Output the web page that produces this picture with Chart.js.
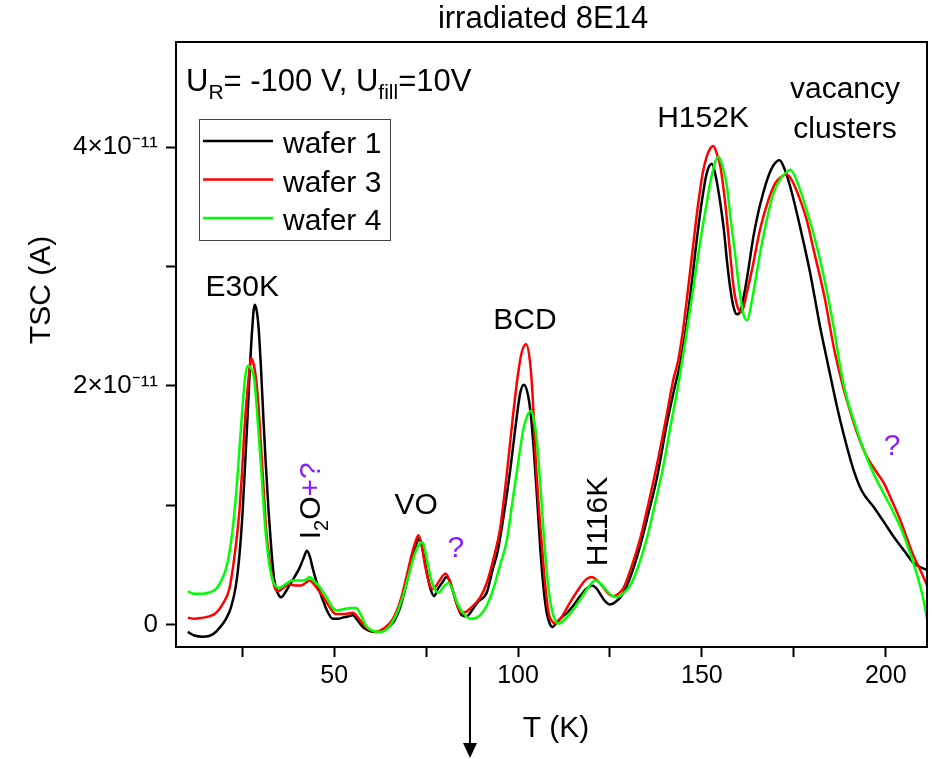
<!DOCTYPE html>
<html>
<head>
<meta charset="utf-8">
<script src="https://cdn.jsdelivr.net/npm/chart.js@4.4.1/dist/chart.umd.min.js"></script>
<style>
  html, body { margin: 0; padding: 0; background: #fff; }
  canvas { display: block; }
</style>
</head>
<body>
<canvas id="chart" width="940" height="759"></canvas>
<script>
// TSC current in units of 1e-11 A, temperature in K
const tempW1 = [10.2, 12, 14.3, 17, 19, 20.6, 22, 23.3, 24.3, 25.1, 25.8, 26.5, 27.1, 27.7, 28.4, 29.0, 29.5, 30.1, 30.7, 31.4, 32.2, 33.0, 33.7, 34.6, 35.6, 36.7, 37.8, 39.2, 40.5, 41.7, 42.6, 43.4, 44.2, 45.5, 46.9, 48.2, 49.6, 51, 52.3, 53.8, 55.1, 56.3, 57.8, 59.5, 61.5, 63.5, 66.1, 68, 69.7, 71.2, 72.5, 73.2, 74.0, 75.2, 76.2, 77.2, 78.2, 79.3, 80.6, 81.5, 82.4, 83.5, 84.7, 86, 87, 89, 91.5, 93, 94.5, 96.9, 98.1, 99.2, 100.6, 101.6, 102.8, 103.5, 104.2, 105.1, 106.0, 106.9, 107.8, 108.6, 109.4, 110.5, 111.8, 113.3, 115, 116.9, 118.5, 120.1, 121.2, 122.3, 123.6, 125.0, 126.5, 128.7, 131, 133.2, 135.5, 137.7, 140.5, 142.3, 144.1, 145.5, 147, 148.5, 150, 151.3, 152.7, 153.8, 155, 156, 156.8, 157.7, 158.6, 159.5, 160.4, 161.2, 162.5, 164, 165.3, 166.7, 168, 169.5, 171.1, 172.3, 174, 176.7, 179.4, 182.1, 184, 186.7, 188.5, 191.2, 193.5, 196.6, 199.5, 202.1, 205, 207.5, 209.5, 211.2];
const tscW1 = [-0.06, -0.09, -0.10, -0.08, -0.02, 0.05, 0.15, 0.33, 0.6, 0.94, 1.35, 1.77, 2.15, 2.47, 2.68, 2.62, 2.47, 2.15, 1.77, 1.35, 0.94, 0.6, 0.38, 0.27, 0.23, 0.27, 0.33, 0.40, 0.47, 0.56, 0.62, 0.57, 0.47, 0.33, 0.21, 0.11, 0.05, 0.05, 0.06, 0.07, 0.08, 0.04, -0.02, -0.05, -0.06, -0.04, 0.02, 0.15, 0.35, 0.54, 0.69, 0.72, 0.64, 0.44, 0.30, 0.24, 0.30, 0.35, 0.40, 0.36, 0.27, 0.16, 0.08, 0.07, 0.10, 0.19, 0.27, 0.45, 0.62, 1.08, 1.35, 1.63, 1.94, 2.01, 1.91, 1.75, 1.50, 1.1, 0.66, 0.32, 0.10, 0.01, -0.02, 0.02, 0.06, 0.10, 0.16, 0.24, 0.30, 0.33, 0.31, 0.26, 0.20, 0.17, 0.19, 0.27, 0.44, 0.66, 0.94, 1.22, 1.69, 1.95, 2.19, 2.45, 2.80, 3.20, 3.55, 3.78, 3.86, 3.75, 3.53, 3.30, 3.05, 2.82, 2.66, 2.60, 2.62, 2.72, 2.95, 3.25, 3.45, 3.62, 3.75, 3.85, 3.89, 3.83, 3.67, 3.33, 2.95, 2.50, 2.22, 1.83, 1.6, 1.30, 1.12, 0.99, 0.86, 0.74, 0.62, 0.52, 0.48, 0.46];

const tempW3 = [10.2, 12, 14.3, 16, 17.9, 19.8, 21.5, 22.8, 24.2, 25.0, 25.6, 26.6, 27.5, 28.2, 28.8, 29.5, 30.1, 30.8, 31.5, 32.4, 33.3, 34.0, 34.7, 36.2, 37.8, 39.4, 41.0, 42.2, 43.3, 44.5, 45.7, 46.9, 48.7, 50.5, 52.5, 55.1, 56.5, 57.8, 59.5, 61.3, 63.5, 65.8, 68, 69.5, 71.2, 72.4, 72.9, 73.7, 74.7, 75.8, 76.8, 77.8, 79.3, 80.3, 81.3, 82.3, 83.4, 84.5, 86, 87.5, 89.7, 91.5, 93.3, 95.1, 96.9, 98.7, 100, 101.0, 102.2, 103.3, 104.0, 104.6, 105.5, 106.5, 107.4, 108.3, 109.2, 110.1, 111.5, 114.2, 116.5, 118.5, 120.1, 121.5, 122.8, 124.3, 126, 127.3, 128.7, 131, 133.2, 135.5, 137.7, 140.5, 142.2, 143.6, 145, 146.3, 147.7, 149.0, 150.2, 151.3, 152.3, 153.1, 154.0, 155.0, 156.0, 156.8, 157.7, 158.6, 159.7, 160.8, 162.2, 163.6, 165.8, 168, 170, 171.5, 173.1, 174.5, 176.7, 178.5, 180.3, 183.3, 186, 188.5, 190.3, 192.5, 194.8, 197, 199.4, 201.5, 203.9, 205.8, 207.5, 209.5, 211.2];
const tscW3 = [0.06, 0.05, 0.06, 0.07, 0.10, 0.18, 0.30, 0.55, 0.94, 1.3, 1.63, 2.02, 2.23, 2.17, 2.05, 1.80, 1.50, 1.15, 0.80, 0.55, 0.38, 0.30, 0.28, 0.31, 0.34, 0.33, 0.33, 0.35, 0.37, 0.34, 0.29, 0.24, 0.15, 0.09, 0.09, 0.10, 0.06, 0.01, -0.04, -0.06, -0.03, 0.04, 0.20, 0.38, 0.60, 0.72, 0.75, 0.68, 0.50, 0.35, 0.30, 0.33, 0.40, 0.43, 0.38, 0.28, 0.17, 0.10, 0.11, 0.15, 0.23, 0.35, 0.55, 0.80, 1.25, 1.77, 2.10, 2.28, 2.35, 2.19, 1.90, 1.50, 1.05, 0.66, 0.33, 0.10, 0.03, 0.01, 0.05, 0.19, 0.30, 0.38, 0.40, 0.37, 0.33, 0.27, 0.24, 0.26, 0.31, 0.50, 0.72, 1.02, 1.33, 1.77, 2.05, 2.22, 2.50, 2.83, 3.20, 3.53, 3.78, 3.92, 3.99, 4.01, 3.95, 3.84, 3.62, 3.39, 3.10, 2.83, 2.66, 2.62, 2.78, 2.97, 3.31, 3.55, 3.70, 3.75, 3.77, 3.72, 3.56, 3.39, 3.15, 2.75, 2.30, 1.98, 1.79, 1.58, 1.41, 1.30, 1.19, 1.05, 0.88, 0.72, 0.58, 0.45, 0.33];

const tempW4 = [10.2, 12, 14.3, 16, 17.9, 19.3, 20.6, 22, 23.3, 24.2, 25.1, 25.8, 26.5, 27.3, 28.3, 29.0, 29.7, 30.5, 31.3, 32.3, 33.3, 34.2, 35.1, 36.8, 38.7, 40.2, 41.4, 42.4, 43.3, 44.5, 45.7, 46.9, 48.7, 50.5, 52.5, 54.5, 56, 57.3, 58.7, 60.5, 62.5, 64.5, 66.5, 68.5, 70.3, 72, 73.3, 74.1, 75, 76.2, 77.3, 78.4, 79.8, 81.1, 82.3, 83.5, 85, 87, 89.7, 91.5, 93.3, 95.1, 96.9, 98.7, 100.0, 101.4, 102.5, 103.5, 104.3, 105.1, 106.0, 106.9, 107.8, 108.7, 109.8, 111.0, 112.5, 115.1, 117.5, 119.5, 121.0, 122.3, 123.7, 125.3, 126.9, 128.5, 130.5, 132.8, 135, 137.3, 139.5, 141.5, 143.5, 145.5, 147.7, 149.5, 151.3, 152.8, 154.5, 155.5, 156.8, 157.8, 159.0, 160.2, 161.3, 162.3, 163.5, 165.8, 167.7, 169.4, 171.5, 173, 174.0, 175.5, 178.5, 182.1, 185.8, 187.6, 189.4, 191.2, 193.8, 196.6, 199.4, 202.1, 204.5, 206.6, 208.0, 209.3, 210.3, 211.2];
const tscW4 = [0.28, 0.26, 0.26, 0.27, 0.30, 0.37, 0.47, 0.70, 1.08, 1.45, 1.83, 2.07, 2.17, 2.15, 2.05, 1.80, 1.50, 1.15, 0.80, 0.52, 0.37, 0.32, 0.31, 0.34, 0.37, 0.37, 0.37, 0.38, 0.40, 0.37, 0.33, 0.28, 0.19, 0.12, 0.13, 0.14, 0.14, 0.08, -0.01, -0.05, -0.06, -0.03, 0.06, 0.22, 0.42, 0.60, 0.68, 0.69, 0.58, 0.40, 0.30, 0.27, 0.32, 0.35, 0.28, 0.18, 0.10, 0.05, 0.08, 0.16, 0.30, 0.50, 0.70, 1.08, 1.35, 1.63, 1.75, 1.79, 1.72, 1.55, 1.20, 0.80, 0.45, 0.21, 0.06, 0.01, 0.04, 0.13, 0.24, 0.33, 0.37, 0.35, 0.30, 0.25, 0.23, 0.26, 0.33, 0.50, 0.72, 1.02, 1.33, 1.67, 2.00, 2.38, 2.83, 3.20, 3.53, 3.78, 3.92, 3.85, 3.67, 3.40, 3.11, 2.80, 2.60, 2.55, 2.70, 3.11, 3.40, 3.61, 3.74, 3.79, 3.81, 3.74, 3.47, 3.06, 2.50, 2.16, 1.90, 1.72, 1.48, 1.27, 1.10, 0.94, 0.78, 0.60, 0.47, 0.33, 0.20, 0.05];

const seriesNames = ['wafer 1', 'wafer 3', 'wafer 4'];
const seriesColors = ['#000000', '#ff0000', '#00ff00'];

// peak labels, anchored in data units (T in K, TSC in 1e-11 A)
const peakLabels = [
  { text: 'E30K', t: 25.0, i: 2.82 },
  { text: 'VO', t: 72.3, i: 1.0 },
  { text: 'BCD', t: 101.9, i: 2.55 },
  { text: 'H152K', t: 150.3, i: 4.24 },
  { text: 'vacancy', t: 188.9, i: 4.41, base: true },
  { text: 'clusters', t: 188.9, i: 4.08, base: true }
];
const questionMarks = [
  { t: 83.1, i: 0.64 },
  { t: 201.7, i: 1.49 }
];

const FONT = "'Liberation Sans', Arial, sans-serif";
const PURPLE = '#8a1cff';

function toPoints(ts, vs) {
  return ts.map((t, k) => ({ x: t, y: vs[k] }));
}

const overlay = {
  id: 'overlay',
  afterDraw(chart) {
    const { ctx, chartArea: a, scales: { x, y } } = chart;
    ctx.save();

    // frame round the plot
    ctx.strokeStyle = '#000';
    ctx.lineWidth = 2;
    ctx.strokeRect(a.left, a.top, a.right - a.left, a.bottom - a.top);

    ctx.fillStyle = '#000';
    ctx.textBaseline = 'middle';
    ctx.textAlign = 'center';
    ctx.font = '31px ' + FONT;
    ctx.fillText('irradiated 8E14', 543, 19);

    // axis titles
    ctx.font = '30px ' + FONT;
    ctx.fillText('T (K)', 556, 729);
    ctx.save();
    ctx.translate(42, 290);
    ctx.rotate(-Math.PI / 2);
    ctx.fillText('TSC (A)', 0, 0);
    ctx.restore();

    // arrow under the axis
    ctx.lineWidth = 2;
    ctx.beginPath();
    ctx.moveTo(470, 667);
    ctx.lineTo(470, 746);
    ctx.stroke();
    ctx.beginPath();
    ctx.moveTo(463, 743);
    ctx.lineTo(477, 743);
    ctx.lineTo(470, 758);
    ctx.closePath();
    ctx.fill();

    // U_R, U_fill line
    ctx.textAlign = 'left';
    ctx.textBaseline = 'alphabetic';
    let px = 186;
    const base = 91;
    const parts = [['U', 0], ['R', 1], ['= -100 V, U', 0], ['fill', 1], ['=10V', 0]];
    parts.forEach(([s, sub]) => {
      ctx.font = (sub ? '21px ' : '31px ') + FONT;
      ctx.fillText(s, px, base + (sub ? 8 : 0));
      px += ctx.measureText(s).width;
    });

    // peak labels
    ctx.font = '30px ' + FONT;
    ctx.textAlign = 'center';
    peakLabels.forEach(p => {
      ctx.textBaseline = p.base ? 'alphabetic' : 'middle';
      ctx.fillText(p.text, x.getPixelForValue(p.t), y.getPixelForValue(p.i));
    });
    ctx.fillStyle = PURPLE;
    ctx.textBaseline = 'middle';
    questionMarks.forEach(q => {
      ctx.fillText('?', x.getPixelForValue(q.t), y.getPixelForValue(q.i));
    });

    // rotated labels: I2O+? and H116K
    ctx.save();
    ctx.translate(x.getPixelForValue(46.2), y.getPixelForValue(0.716));
    ctx.rotate(-Math.PI / 2);
    ctx.textAlign = 'left';
    ctx.textBaseline = 'alphabetic';
    let rx = 0;
    [['I', 0, '#000'], ['2', 1, '#000'], ['O', 0, '#000'], ['+?', 0, PURPLE]].forEach(([s, sub, c]) => {
      ctx.font = (sub ? '20px ' : '30px ') + FONT;
      ctx.fillStyle = c;
      ctx.fillText(s, rx, sub ? 8 : 0);
      rx += ctx.measureText(s).width;
    });
    ctx.restore();

    ctx.save();
    ctx.translate(x.getPixelForValue(124.2), y.getPixelForValue(0.49));
    ctx.rotate(-Math.PI / 2);
    ctx.textAlign = 'left';
    ctx.textBaseline = 'alphabetic';
    ctx.fillStyle = '#000';
    ctx.font = '30px ' + FONT;
    ctx.fillText('H116K', 0, 0);
    ctx.restore();

    // legend box
    ctx.strokeStyle = '#444';
    ctx.lineWidth = 1;
    ctx.strokeRect(199.5, 119.5, 191, 121);
    ctx.font = '30px ' + FONT;
    ctx.textAlign = 'left';
    ctx.textBaseline = 'alphabetic';
    chart.data.datasets.forEach((ds, k) => {
      const ly = 141 + k * 38.5;
      ctx.strokeStyle = ds.borderColor;
      ctx.lineWidth = 2.5;
      ctx.beginPath();
      ctx.moveTo(203, ly);
      ctx.lineTo(273, ly);
      ctx.stroke();
      ctx.fillStyle = '#000';
      ctx.fillText(ds.label, 283, ly + 12);
    });

    ctx.restore();
  }
};

const datasets = [
  toPoints(tempW1, tscW1),
  toPoints(tempW3, tscW3),
  toPoints(tempW4, tscW4)
].map((pts, k) => ({
  label: seriesNames[k],
  data: pts,
  borderColor: seriesColors[k],
  borderWidth: 2.5,
  pointRadius: 0,
  fill: false,
  cubicInterpolationMode: 'monotone',
  order: 3 - k
}));

new Chart(document.getElementById('chart'), {
  type: 'line',
  data: { datasets: datasets },
  options: {
    responsive: false,
    animation: false,
    events: [],
    layout: { padding: { top: 42, right: 13, left: 0, bottom: 0 } },
    plugins: {
      legend: { display: false },
      tooltip: { enabled: false },
      title: { display: false }
    },
    scales: {
      x: {
        type: 'linear',
        min: 7,
        max: 211.2,
        afterFit: s => { s.height = 112; },
        border: { display: true, color: '#000', width: 2 },
        grid: { drawOnChartArea: false, drawTicks: true, tickLength: 10, tickColor: '#000', tickWidth: 2 },
        ticks: {
          stepSize: 25,
          includeBounds: false,
          autoSkip: false,
          maxRotation: 0,
          padding: 4,
          color: '#000',
          font: { family: FONT, size: 25 },
          callback: v => (v % 50 === 0 ? String(v) : '')
        }
      },
      y: {
        type: 'linear',
        min: -0.186,
        max: 4.88,
        afterFit: s => { s.width = 176; },
        border: { display: true, color: '#000', width: 2 },
        grid: { drawOnChartArea: false, drawTicks: true, tickLength: 10, tickColor: '#000', tickWidth: 2 },
        ticks: {
          stepSize: 1,
          includeBounds: false,
          autoSkip: false,
          padding: 8,
          color: '#000',
          font: { family: FONT, size: 26 },
          callback: v => (v === 0 ? '0' : (v % 2 === 0 ? v + '×10⁻¹¹' : ''))
        }
      }
    }
  },
  plugins: [overlay]
});
</script>
</body>
</html>
